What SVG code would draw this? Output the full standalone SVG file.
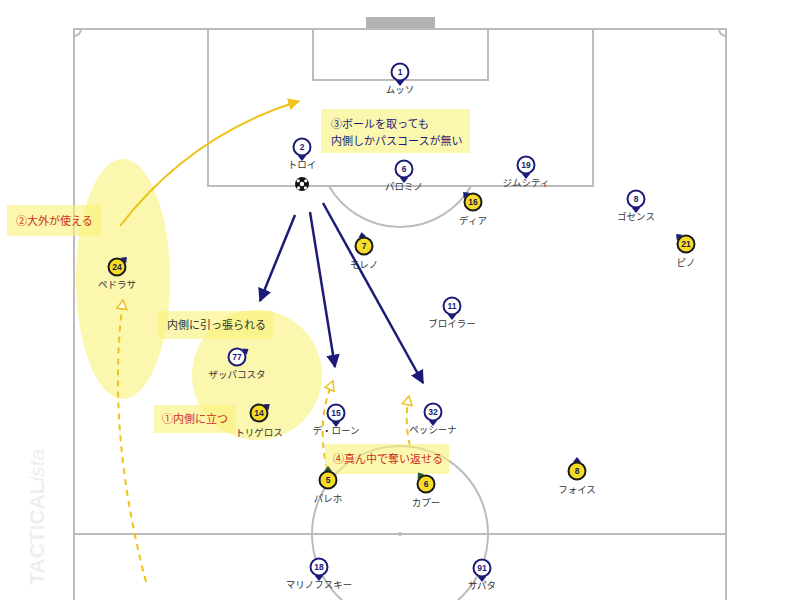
<svg xmlns="http://www.w3.org/2000/svg" width="800" height="600" viewBox="0 0 800 600">
<defs>
<style>
.ln{fill:none;stroke:#bcbcbc;stroke-width:2}
.hl{fill:#f9f27c;opacity:0.62}
.box{fill:#f9f27c;opacity:0.62}
.pb circle{fill:#fff;stroke:#1c1c78;stroke-width:2}
.pb .num{fill:#1c1c78}
.py circle{fill:#f6dc26;stroke:#1a1a1a;stroke-width:2}
.py .num{fill:#1c1c50}
.ptr{fill:#1c1c78}
.ptg{fill:#2a5a30}
.num{font-family:"Liberation Sans",sans-serif;font-weight:bold;font-size:8.5px;text-anchor:middle}
.lbl{font-family:"Noto Sans CJK JP",sans-serif;font-size:9.5px;fill:#333;text-anchor:middle}
.ct{font-family:"Noto Sans CJK JP",sans-serif;font-size:11px}
.red{fill:#d0301c}
.nav{fill:#1c1c78}
.dk{fill:#333}
.arN{stroke:#1c1c78;stroke-width:2.5;fill:none}
.arY{stroke:#efc21c;stroke-width:2;fill:none}
.arD{stroke:#efc21c;stroke-width:2;fill:none;stroke-dasharray:6 5}
</style>
<marker id="mN" viewBox="0 0 10 10" refX="9" refY="5" markerWidth="5.5" markerHeight="5.5" orient="auto" markerUnits="strokeWidth"><path d="M0,0 L10,5 L0,10 z" fill="#1c1c78"/></marker>
<marker id="mY" viewBox="0 0 10 10" refX="9" refY="5" markerWidth="6" markerHeight="6" orient="auto" markerUnits="strokeWidth"><path d="M0,0 L10,5 L0,10 z" fill="#efc21c"/></marker>
<marker id="mO" viewBox="0 0 12 12" refX="10" refY="6" markerWidth="6" markerHeight="6" orient="auto" markerUnits="strokeWidth"><path d="M1,1 L10,6 L1,11 z" fill="#fff" stroke="#efc21c" stroke-width="1.5"/></marker>
</defs>
<rect width="800" height="600" fill="#fff"/>
<g id="pitch">
<rect x="366" y="17" width="69" height="12" fill="#b3b3b3"/>
<path class="ln" d="M74,600 V29 H726 V600"/>
<path class="ln" d="M208,29 V186 H593 V29"/>
<path class="ln" d="M313,29 V80 H488 V29"/>
<path class="ln" d="M329,186 A82,82 0 0 0 471,186"/>
<path class="ln" d="M74,36 A7,7 0 0 0 81,29"/>
<path class="ln" d="M726,36 A7,7 0 0 1 719,29"/>
<line class="ln" x1="74" y1="534" x2="726" y2="534"/>
<circle class="ln" cx="400" cy="534" r="88"/>
<circle cx="400" cy="534" r="2" fill="#bcbcbc"/>
</g>
<text transform="translate(44,585) rotate(-90)" font-family="Liberation Sans,sans-serif" font-size="21" fill="#eeeeee" font-weight="bold">TACTICAL<tspan font-style="italic" font-weight="normal">ista</tspan></text>
<g id="highlights">
<ellipse class="hl" cx="123" cy="279" rx="47" ry="120"/>
<circle class="hl" cx="257" cy="375" r="65"/>
</g>
<g id="connectors">
<path class="arY" d="M120,226 Q190,135 299,101" marker-end="url(#mY)"/>
<line class="arN" x1="295" y1="215" x2="260" y2="301" marker-end="url(#mN)"/>
<line class="arN" x1="310" y1="212" x2="335" y2="367" marker-end="url(#mN)"/>
<line class="arN" x1="323" y1="203" x2="423" y2="383" marker-end="url(#mN)"/>
<path class="arD" d="M146,582 Q106,430 123,300" marker-end="url(#mO)"/>
<path class="arD" d="M327,470 Q316,420 333,381" marker-end="url(#mO)"/>
<path class="arD" d="M410,446 Q404,420 409,396" marker-end="url(#mO)"/>
</g>
<g id="callouts">
<g id="c2"><rect class="box" x="7" y="205" width="94" height="31"/><text class="ct red" x="16" y="225">②大外が使える</text></g>
<g id="c3"><rect class="box" x="321" y="109" width="149" height="44"/><text class="ct nav" x="331" y="128">③ボールを取っても</text><text class="ct nav" x="331" y="145">内側しかパスコースが無い</text></g>
<g id="cin"><rect class="box" x="158" y="311" width="115" height="28"/><text class="ct dk" x="167" y="329">内側に引っ張られる</text></g>
<g id="c1"><rect class="box" x="154" y="405" width="82" height="28"/><text class="ct red" x="162" y="423">①内側に立つ</text></g>
<g id="c4"><rect class="box" x="325" y="444" width="124" height="30"/><text class="ct red" x="333" y="463">④真ん中で奪い返せる</text></g>
</g>
<g id="ball" transform="translate(302,184)">
<circle r="7" fill="#111"/>
<circle r="2.2" fill="#fff"/>
<circle cx="-3.8" cy="-3.2" r="1.6" fill="#fff"/>
<circle cx="3.8" cy="-3.2" r="1.6" fill="#fff"/>
<circle cx="-3.4" cy="3.8" r="1.6" fill="#fff"/>
<circle cx="3.4" cy="3.8" r="1.6" fill="#fff"/>
</g>
<g id="p1" class="pb" transform="translate(400,72)"><polygon class="ptr" points="-4,9 4,9 0,14"/><circle r="8.5"/><text class="num" y="3">1</text><text class="lbl" y="21">ムッソ</text></g>
<g id="p2" class="pb" transform="translate(302,147)"><polygon class="ptr" points="-4,9 4,9 0,14"/><circle r="8.5"/><text class="num" y="3">2</text><text class="lbl" y="21">トロイ</text></g>
<g id="p6b" class="pb" transform="translate(404,169)"><polygon class="ptr" points="-4,9 4,9 0,14"/><circle r="8.5"/><text class="num" y="3">6</text><text class="lbl" y="21">パロミノ</text></g>
<g id="p19" class="pb" transform="translate(526,165)"><polygon class="ptr" points="-4,9 4,9 0,14"/><circle r="8.5"/><text class="num" y="3">19</text><text class="lbl" y="21">ジムシティ</text></g>
<g id="p8b" class="pb" transform="translate(636,199)"><polygon class="ptr" points="-4,9 4,9 0,14"/><circle r="8.5"/><text class="num" y="3">8</text><text class="lbl" y="21">ゴセンス</text></g>
<g id="p11" class="pb" transform="translate(452,306)"><polygon class="ptr" points="-4,9 4,9 0,14"/><circle r="8.5"/><text class="num" y="3">11</text><text class="lbl" y="21">ブロイラー</text></g>
<g id="p77" class="pb" transform="translate(237,357)"><polygon class="ptr" points="-4,-9 4,-9 0,-14" transform="rotate(55)"/><circle r="8.5"/><text class="num" y="3">77</text><text class="lbl" y="21">ザッパコスタ</text></g>
<g id="p15" class="pb" transform="translate(336,413)"><polygon class="ptr" points="-4,9 4,9 0,14"/><circle r="8.5"/><text class="num" y="3">15</text><text class="lbl" y="21">デ・ローン</text></g>
<g id="p32" class="pb" transform="translate(433,412)"><polygon class="ptr" points="-4,9 4,9 0,14"/><circle r="8.5"/><text class="num" y="3">32</text><text class="lbl" y="21">ペッシーナ</text></g>
<g id="p18" class="pb" transform="translate(319,567)"><polygon class="ptr" points="-4,9 4,9 0,14"/><circle r="8.5"/><text class="num" y="3">18</text><text class="lbl" y="21">マリノフスキー</text></g>
<g id="p91" class="pb" transform="translate(482,568)"><polygon class="ptr" points="-4,9 4,9 0,14"/><circle r="8.5"/><text class="num" y="3">91</text><text class="lbl" y="21">サパタ</text></g>
<g id="p16" class="py" transform="translate(473,202)"><polygon class="ptr" points="-4,-9 4,-9 0,-14" transform="rotate(-45)"/><circle r="8.5"/><text class="num" y="3">16</text><text class="lbl" y="22">ディア</text></g>
<g id="p21" class="py" transform="translate(686,244)"><polygon class="ptr" points="-4,-9 4,-9 0,-14" transform="rotate(-45)"/><circle r="8.5"/><text class="num" y="3">21</text><text class="lbl" y="22">ピノ</text></g>
<g id="p7" class="py" transform="translate(364,246)"><polygon class="ptr" points="-4,-9 4,-9 0,-14" transform="rotate(-10)"/><circle r="8.5"/><text class="num" y="3">7</text><text class="lbl" y="22">モレノ</text></g>
<g id="p24" class="py" transform="translate(117,267)"><polygon class="ptr" points="-4,-9 4,-9 0,-14" transform="rotate(45)"/><circle r="8.5"/><text class="num" y="3">24</text><text class="lbl" y="21">ペドラサ</text></g>
<g id="p14" class="py" transform="translate(259,413)"><polygon class="ptr" points="-4,-9 4,-9 0,-14" transform="rotate(50)"/><circle r="8.5"/><text class="num" y="3">14</text><text class="lbl" y="23">トリゲロス</text></g>
<g id="p5" class="py" transform="translate(328,480)"><polygon class="ptg" points="-4,-9 4,-9 0,-14"/><circle r="8.5"/><text class="num" y="3">5</text><text class="lbl" y="22">パレホ</text></g>
<g id="p6y" class="py" transform="translate(426,484)"><polygon class="ptg" points="-4,-9 4,-9 0,-14" transform="rotate(-35)"/><circle r="8.5"/><text class="num" y="3">6</text><text class="lbl" y="22">カプー</text></g>
<g id="p8y" class="py" transform="translate(577,471)"><polygon class="ptr" points="-4,-9 4,-9 0,-14"/><circle r="8.5"/><text class="num" y="3">8</text><text class="lbl" y="22">フォイス</text></g>
</svg>
